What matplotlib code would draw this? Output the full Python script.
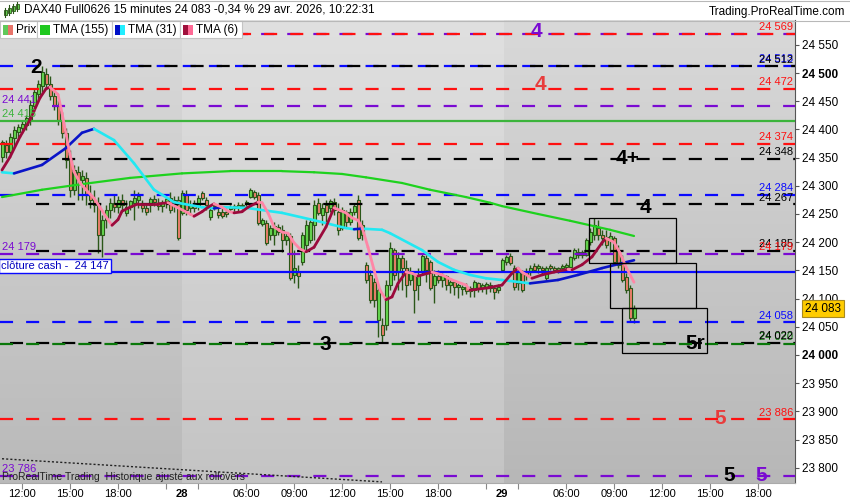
import matplotlib
matplotlib.use("Agg")
import matplotlib.pyplot as plt
import numpy as np
from matplotlib.collections import LineCollection
from matplotlib.colors import LinearSegmentedColormap
from matplotlib.lines import Line2D
from matplotlib.patches import Rectangle

plt.rcParams["font.family"] = ["Liberation Sans", "DejaVu Sans"]
plt.rcParams["lines.scale_dashes"] = False

# ---------------- data (15 min candles, 27 -> 29 avr.) ----------------
opens = [
    24351, 24372, 24360, 24385, 24395, 24402, 24408, 24417, 24441, 24463,
    24477, 24498, 24480, 24459, 24441, 24417, 24394, 24346, 24293, 24324,
    24310, 24314, 24284, 24275, 24266, 24213, 24239, 24257, 24270, 24262,
    24275, 24252, 24262, 24270, 24275, 24266, 24261, 24266, 24277, 24270,
    24264, 24271, 24278, 24275, 24275,
    24252, 24284, 24261, 24266, 24264, 24287, 24275, 24245, 24264, 24254,
    24254, 24254, 24259, 24261, 24262, 24264, 24268, 24280, 24289, 24284,
    24232, 24234, 24213, 24213, 24227, 24222, 24204, 24211, 24142, 24147,
    24165, 24195, 24204, 24230, 24270, 24248, 24266, 24261, 24271, 24254,
    24225, 24254, 24236, 24254, 24275, 24213, 24160, 24142, 24129, 24062,
    24053, 24053, 24124, 24186, 24147, 24172, 24154, 24133, 24142, 24124,
    24147, 24172, 24165, 24124, 24140, 24133, 24140, 24124, 24129, 24121,
    24117, 24121, 24113, 24115, 24127, 24119, 24121, 24124, 24119, 24115,
    24151, 24165, 24176, 24154, 24127, 24145, 24147, 24147, 24158, 24154,
    24154, 24136, 24158, 24154, 24151, 24154, 24156, 24156, 24172, 24183,
    24178, 24178, 24200, 24213, 24225, 24213, 24209, 24204, 24207, 24186,
    24165, 24138, 24119, 24066,
]
highs = [
    24381, 24381, 24394, 24406, 24410, 24417, 24426, 24452, 24473, 24488,
    24512, 24509, 24495, 24470, 24452, 24431, 24402, 24363, 24337, 24335,
    24328, 24324, 24301, 24293, 24280, 24248, 24266, 24278, 24284, 24282,
    24285, 24275, 24275, 24293, 24289, 24275, 24270, 24280, 24284, 24278,
    24275, 24282, 24289, 24282, 24282,
    24293, 24293, 24275, 24275, 24284, 24290, 24280, 24261, 24270, 24261,
    24261, 24261, 24266, 24268, 24271, 24270, 24275, 24296, 24293, 24289,
    24243, 24239, 24230, 24236, 24232, 24230, 24218, 24216, 24186, 24160,
    24218, 24239, 24243, 24275, 24278, 24270, 24275, 24277, 24278, 24270,
    24262, 24257, 24261, 24270, 24284, 24239, 24165, 24151, 24136, 24124,
    24066, 24133, 24200, 24190, 24183, 24178, 24168, 24156, 24147, 24154,
    24181, 24178, 24168, 24151, 24151, 24145, 24142, 24136, 24133, 24127,
    24124, 24127, 24122, 24133, 24129, 24127, 24129, 24129, 24124, 24126,
    24172, 24178, 24181, 24160, 24154, 24151, 24154, 24160, 24163, 24161,
    24158, 24158, 24161, 24158, 24156, 24161, 24163, 24176, 24190, 24190,
    24186, 24207, 24225, 24243, 24239, 24222, 24222, 24218, 24211, 24195,
    24178, 24145, 24124, 24089,
]
lows = [
    24342, 24349, 24355, 24371, 24381, 24394, 24399, 24408, 24431, 24452,
    24466, 24473, 24452, 24434, 24408, 24385, 24332, 24280, 24284, 24275,
    24275, 24266, 24261, 24254, 24181, 24174, 24225, 24243, 24254, 24252,
    24257, 24246, 24257, 24239, 24261, 24254, 24248, 24254, 24264, 24257,
    24254, 24261, 24252, 24254, 24204,
    24248, 24248, 24248, 24254, 24257, 24275, 24257, 24239, 24257, 24243,
    24243, 24245, 24254, 24254, 24254, 24259, 24261, 24278, 24277, 24230,
    24229, 24195, 24204, 24195, 24213, 24183, 24195, 24133, 24127, 24119,
    24160, 24183, 24199, 24204, 24248, 24230, 24236, 24254, 24248, 24213,
    24222, 24227, 24230, 24248, 24204, 24204, 24127, 24092, 24085, 24032,
    24021, 24044, 24115, 24133, 24115, 24115, 24103, 24124, 24074, 24098,
    24142, 24129, 24115, 24092, 24127, 24121, 24115, 24110, 24106, 24101,
    24106, 24108, 24103, 24103, 24112, 24112, 24108, 24112, 24099, 24110,
    24147, 24160, 24160, 24115, 24115, 24112, 24133, 24138, 24149, 24145,
    24142, 24133, 24151, 24147, 24145, 24147, 24151, 24154, 24168, 24172,
    24172, 24176, 24195, 24204, 24204, 24195, 24190, 24183, 24160, 24154,
    24129, 24110, 24058, 24057,
]
closes = [
    24378, 24360, 24387, 24399, 24404, 24410, 24420, 24443, 24466, 24480,
    24502, 24480, 24459, 24441, 24417, 24394, 24346, 24293, 24328, 24310,
    24317, 24284, 24275, 24266, 24213, 24239, 24257, 24270, 24262, 24275,
    24266, 24262, 24273, 24278, 24282, 24261, 24254, 24277, 24271, 24264,
    24270, 24277, 24257, 24266, 24207,
    24287, 24257, 24266, 24261, 24278, 24278, 24266, 24257, 24266, 24248,
    24246, 24250, 24262, 24264, 24266, 24266, 24271, 24293, 24280, 24234,
    24239, 24199, 24225, 24229, 24218, 24204, 24211, 24136, 24154, 24140,
    24213, 24230, 24236, 24266, 24252, 24261, 24254, 24273, 24257, 24222,
    24257, 24236, 24254, 24264, 24207, 24230, 24133, 24098, 24098, 24115,
    24035, 24124, 24190, 24142, 24172, 24154, 24124, 24147, 24115, 24142,
    24176, 24151, 24119, 24140, 24133, 24142, 24124, 24129, 24121, 24124,
    24121, 24113, 24119, 24129, 24119, 24124, 24126, 24119, 24112, 24121,
    24168, 24174, 24163, 24121, 24147, 24115, 24142, 24154, 24151, 24158,
    24151, 24154, 24154, 24151, 24154, 24158, 24160, 24174, 24186, 24178,
    24183, 24204, 24218, 24230, 24213, 24207, 24195, 24211, 24165, 24160,
    24133, 24115, 24066, 24083,
]

tick_idx = [5, 17, 29, 41, 45, 49, 61, 73, 85, 97, 109, 121, 125, 129, 141, 153, 165, 177, 189]
tick_lbl = ["12:00", "15:00", "18:00", "", "28", "", "06:00", "09:00", "12:00", "15:00",
            "18:00", "", "29", "", "06:00", "09:00", "12:00", "15:00", "18:00"]
day_first = [45, 125]

tma155_i = [0, 10, 20, 32, 45, 57, 70, 78, 85, 91, 100, 107, 116, 122, 125, 134, 142, 152, 158]
tma155_v = [24280, 24293, 24303, 24314, 24322, 24326, 24326, 24324, 24321, 24315,
            24305, 24293, 24280, 24270, 24264, 24250, 24238, 24222, 24211]

tma31_i = [0, 3, 10, 16, 20, 23, 28, 33, 38, 43, 50, 53, 55, 61, 70, 78, 86, 88, 90,
           95, 97, 105, 109, 113, 117, 121, 125, 132, 139, 144, 150, 158]
tma31_v = [24324, 24322, 24337, 24367, 24394, 24401, 24381, 24340, 24293, 24271,
           24262, 24260, 24262, 24261, 24252, 24239, 24225, 24223, 24224, 24222,
           24216, 24186, 24165, 24151, 24142, 24136, 24133, 24127, 24133, 24142,
           24154, 24168]

tma6_i = [0, 2, 4.5, 7, 9.5, 11, 12, 14, 15, 16, 17, 18, 19.5, 21, 23, 24.5, 26, 27.5,
          29, 30, 32, 34, 39, 41.5, 44, 46.5, 48, 50, 51.5, 53, 55, 56.5, 58, 60, 61.5,
          64, 65, 66.5, 68, 70, 71.5, 73, 74.5, 76, 78, 81, 83, 86, 87.5, 89, 90, 91.5,
          93, 94.5, 96, 97.5, 99, 101, 102.5, 104, 106.5, 107.5, 110, 112.5, 116, 117,
          121.5, 125, 127.5, 129, 130, 132.5, 135, 138, 141.5, 142.5, 145, 147.5, 150,
          151, 153, 154.5, 156, 158]
tma6_v = [24328, 24351, 24387, 24417, 24456, 24472, 24475, 24462, 24429, 24392, 24355,
          24325, 24305, 24293, 24278, 24262, 24245, 24230, 24240, 24255, 24262, 24268,
          24268, 24270, 24261, 24252, 24246, 24254, 24262, 24268, 24262, 24255, 24252,
          24254, 24262, 24271, 24270, 24252, 24227, 24218, 24216, 24199, 24188, 24183,
          24191, 24227, 24261, 24252, 24243, 24239, 24227, 24191, 24151, 24115, 24098,
          24103, 24127, 24147, 24145, 24140, 24145, 24147, 24142, 24133, 24124, 24115,
          24119, 24124, 24145, 24154, 24147, 24136, 24142, 24147, 24152, 24151, 24160,
          24174, 24199, 24207, 24200, 24181, 24156, 24129]

level_values = [24569, 24569, 24513, 24512, 24472, 24441, 24415, 24374, 24348, 24284,
                24267, 24185, 24179, 24147, 24058, 24022, 24020, 23886, 23786]
right_label_values = [24569, 24513, 24512, 24472, 24374, 24348, 24284, 24267, 24185,
                      24179, 24058, 24020, 24022, 23886]
left_label_values = [24441, 24415, 24179, 23786]
cash_close = 24147
last_price = 24083

trend_i = [0, 95]
trend_v = [23816, 23775]

box_left = [146.75, 152, 155]
box_right = [168.5, 173.5, 176.25]
box_low = [24163, 24083, 24003]
box_high = [24243, 24163, 24083]

wave_text = ["2", "4", "4", "4+", "4", "3", "5r", "5", "5", "5"]
wave_i = [8.5, 133.5, 134.5, 156.5, 160.75, 80.75, 173.25, 179.5, 181.75, 189.75]
wave_v = [24509, 24573, 24480, 24349, 24262, 24018, 24021, 23888, 23787, 23787]

# ---------------- styles ----------------
PURPLE = "#7a0ad2"
RED = "#ff1010"
BLUE = "#0a0aff"
BLACK = "#000000"
GREEN = "#3cb43c"
DGREEN = "#0a780a"
WICK = "#2b5719"

level_color = [PURPLE, RED, BLUE, BLACK, RED, PURPLE, GREEN, RED, BLACK, BLUE,
               BLACK, BLACK, PURPLE, BLUE, BLUE, BLACK, DGREEN, RED, PURPLE]
level_solid = [False] * 19
level_solid[6] = True
level_solid[13] = True
level_start = [-0.5, 0.25, -0.5, 14.5, -0.5, 12.5, -0.5, -0.5, 8.5, -0.5,
               8.5, 8.5, -0.5, -0.5, -0.5, 2, -0.5, -0.5, -0.5]
right_label_color = [RED, BLUE, BLACK, RED, RED, BLACK, BLUE, BLACK, BLACK, RED,
                     BLUE, DGREEN, BLACK, RED]
left_label_color = [PURPLE, GREEN, PURPLE, PURPLE]
wave_color = [BLACK, PURPLE, "#e83c3c", BLACK, BLACK, BLACK, BLACK, "#e83c3c", BLACK, PURPLE]


def fmt(v):
    return f"{v:,}".replace(",", " ")


W, H = 850, 500
fig = plt.figure(figsize=(8.5, 5), dpi=100)
fig.patch.set_facecolor("white")
ax = fig.add_axes([0, 17 / H, 795 / W, 463 / H])

X0, X1 = -0.5, 198.25
Y0, Y1 = 23773, 24594

# day backgrounds (vertical gradients)
day_edges = [X0, 45, 125.5, X1]
day_cols = [("#dadada", "#b9b9b9"), ("#e0e0e0", "#c4c4c4"), ("#d9d9d9", "#b7b7b7")]
grad = np.linspace(0, 1, 256).reshape(-1, 1)
for k in range(3):
    cm = LinearSegmentedColormap.from_list("bg%d" % k, [day_cols[k][1], day_cols[k][0]])
    ax.imshow(grad, extent=(day_edges[k], day_edges[k + 1], Y0, Y1), origin="lower",
              cmap=cm, aspect="auto", zorder=0, interpolation="bilinear")

# candles
idx = np.arange(len(closes))
o = np.array(opens, float)
c = np.array(closes, float)
up = c >= o
bottom = np.minimum(o, c)
height = np.maximum(np.abs(c - o), 1.5)
ax.vlines(idx, lows, highs, color=WICK, lw=1.0, zorder=2)
ax.bar(idx[up], height[up], 0.75, bottom[up], color="#66d94f", edgecolor=WICK,
       linewidth=0.8, zorder=2.5)
ax.bar(idx[~up], height[~up], 0.75, bottom[~up], color="#ee7f6c", edgecolor=WICK,
       linewidth=0.8, zorder=2.5)

# horizontal levels
for val, col, solid, start in zip(level_values, level_color, level_solid, level_start):
    ls = "-" if solid else (0, (9.4, 9.4))
    ax.plot([start, X1], [val, val], color=col, lw=1.6, linestyle=ls, zorder=3,
            dash_capstyle="butt", solid_capstyle="butt")

for val, col in zip(right_label_values, right_label_color):
    ax.text(197.75, val + 3, fmt(val), color=col, fontsize=8, ha="right", va="bottom", zorder=6)
for val, col in zip(left_label_values, left_label_color):
    ax.text(0, val + 3, fmt(val), color=col, fontsize=8, ha="left", va="bottom", zorder=6)

ax.text(-0.2, cash_close + 1.5, "clôture cash -  " + fmt(cash_close), color="#0000c0",
        fontsize=8, ha="left", va="bottom", zorder=7,
        bbox=dict(boxstyle="square,pad=0.2", fc="white", ec=BLUE, lw=1.0))

# trend line
ax.plot(trend_i, trend_v, color="#222222", lw=1.0, linestyle=(0, (1.5, 1.5)), zorder=3)


# moving averages coloured by slope
def two_tone(xs, ys, up_col, down_col, lw):
    pts = np.column_stack([xs, ys])
    segs = np.stack([pts[:-1], pts[1:]], axis=1)
    cols = [up_col if b >= a else down_col for a, b in zip(ys[:-1], ys[1:])]
    ax.add_collection(LineCollection(segs, colors=cols, linewidths=lw,
                                     capstyle="round", joinstyle="round", zorder=4))


two_tone(tma155_i, tma155_v, "#1ed21e", "#1ed21e", 1.6)
two_tone(tma31_i, tma31_v, "#0a14c8", "#22e8f2", 1.9)
two_tone(tma6_i, tma6_v, "#9b0a3c", "#ff86a6", 2.0)

# boxes
for l, r, lo, hi in zip(box_left, box_right, box_low, box_high):
    ax.add_patch(Rectangle((l, lo), r - l, hi - lo, fill=False, ec="black", lw=0.9, zorder=5))

# wave labels
for t, xi, yv, col in zip(wave_text, wave_i, wave_v, wave_color):
    ax.text(xi, yv, t, color=col, fontsize=15, fontweight="bold", ha="center",
            va="center", zorder=6)

ax.set_xlim(X0, X1)
ax.set_ylim(Y0, Y1)

# axes
for s in ("top", "left"):
    ax.spines[s].set_visible(False)
ax.spines["right"].set_color("#555555")
ax.spines["right"].set_linewidth(0.8)
ax.spines["bottom"].set_color("#aaaaaa")
ax.spines["bottom"].set_linewidth(0.8)

ax.yaxis.tick_right()
yt = list(range(23800, 24551, 50))
ax.set_yticks(yt)
ylabels = ax.set_yticklabels([fmt(v) for v in yt])
for v, lb in zip(yt, ylabels):
    if v % 500 == 0:
        lb.set_fontweight("bold")
        lb.set_fontsize(10)
ax.tick_params(axis="y", length=3, width=0.8, pad=2, labelsize=8.5, color="#555555")

ax.set_xticks(tick_idx)
xlabels = ax.set_xticklabels(tick_lbl)
for lb in xlabels:
    if lb.get_text() in ("28", "29"):
        lb.set_fontweight("bold")
        lb.set_fontsize(9.5)
ax.tick_params(axis="x", length=4, width=0.8, pad=0.5, labelsize=8, color="#888888")
for tk, pos in zip(ax.xaxis.get_major_ticks(), tick_idx):
    if pos in day_first:
        tk.tick1line.set_visible(False)


# ---------------- header / legend (pixel helpers) ----------------
def fx(x):
    return x / W


def fy(y):
    return 1 - y / H


fig.add_artist(Line2D([0, 1], [fy(1), fy(1)], color="#b8b8b8", lw=0.8))
fig.add_artist(Line2D([0, 1], [fy(20.5), fy(20.5)], color="#b8b8b8", lw=0.8))
# small candle icon
for x, b0, b1, w0, w1 in [(5, 10, 15, 8, 17), (9, 8, 13, 5, 15),
                          (13, 6, 11, 4, 13), (17, 4, 9, 2, 11)]:
    fig.add_artist(Line2D([fx(x), fx(x)], [fy(w1), fy(w0)], color=WICK, lw=0.8))
    fig.add_artist(Rectangle((fx(x - 1.5), fy(b1)), 3 / W, (b1 - b0) / H,
                             transform=fig.transFigure, fc="#66d94f", ec=WICK, lw=0.6))
fig.text(fx(24), fy(10), "DAX40 Full0626 15 minutes 24 083 -0,34 % 29 avr. 2026, 10:22:31",
         fontsize=8.5, va="center", ha="left")
fig.text(fx(845), fy(12), "Trading.ProRealTime.com", fontsize=8.5, va="center", ha="right")

legend_items = [("Prix", "#5fc85a", "#e8746a", 0, 37),
                ("TMA (155)", "#1ec81e", "#1ec81e", 37, 112),
                ("TMA (31)", "#0010c8", "#22eeff", 112, 180),
                ("TMA (6)", "#a0103c", "#ff6a96", 180, 242)]
for name, c1, c2, x0, x1 in legend_items:
    fig.add_artist(Rectangle((fx(x0), fy(38)), (x1 - x0) / W, 17 / H,
                             transform=fig.transFigure, fc="white", ec="#c4c4c4", lw=0.8))
    fig.add_artist(Rectangle((fx(x0 + 3), fy(35)), 5 / W, 10 / H,
                             transform=fig.transFigure, fc=c1, ec="none"))
    fig.add_artist(Rectangle((fx(x0 + 8), fy(35)), 5 / W, 10 / H,
                             transform=fig.transFigure, fc=c2, ec="none"))
    fig.text(fx(x0 + 16), fy(30), name, fontsize=8.5, va="center", ha="left")

fig.text(fx(2), fy(477), "ProRealTime Trading  Historique ajusté aux rollovers",
         fontsize=7.5, color="#222222", va="center", ha="left")

# last price tag
fig.text(fx(805), fy(308.5), fmt(last_price), fontsize=8.5, va="center", ha="left",
         bbox=dict(boxstyle="square,pad=0.25", fc="#ffcc00", ec="#a88a20", lw=0.8))

fig.savefig("out.png", dpi=100)
